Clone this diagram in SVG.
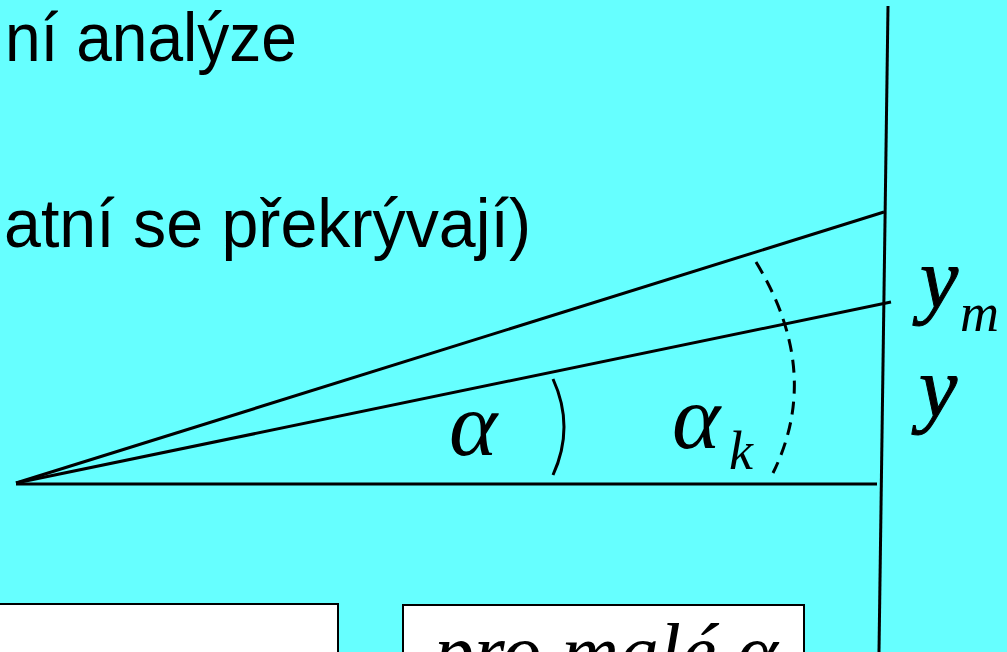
<svg xmlns="http://www.w3.org/2000/svg" width="1007" height="652" viewBox="0 0 1007 652">
<style>
.ln{stroke:#000;stroke-width:3;fill:none;stroke-linecap:butt}
.arc{stroke:#000;stroke-width:3;fill:none}
.cz{font-family:"Liberation Sans","Noto Sans",sans-serif;font-size:69px;fill:#000}
.m{font-family:"Liberation Serif","DejaVu Serif",serif;font-style:italic;fill:#000}
.box{fill:#fff;stroke:#000;stroke-width:2}
</style>
<rect x="0" y="0" width="1007" height="652" fill="#66FFFF"/>
<g id="text-top">
<text class="cz" x="5" y="61" textLength="292" lengthAdjust="spacingAndGlyphs">ní analýze</text>
<text class="cz" x="4" y="247" textLength="527" lengthAdjust="spacingAndGlyphs">atní se překrývají)</text>
</g>
<g id="lines">
<line class="ln" x1="888" y1="6" x2="879" y2="652"/>
<line class="ln" x1="16" y1="484" x2="877" y2="484"/>
<line class="ln" x1="16" y1="483" x2="884" y2="212"/>
<line class="ln" x1="16" y1="483" x2="891" y2="302"/>
<path class="arc" d="M553,379 Q575,427 553,475"/>
<path class="arc" d="M756,262 Q823,372 773,473" stroke-dasharray="13,8"/>
</g>
<g id="labels">
<text class="m" x="449" y="455" font-size="92">α</text>
<text class="m" x="672" y="448" font-size="92">α</text>
<text class="m" x="729" y="469" font-size="54">k</text>
<text class="m" x="920" y="307" font-size="86" stroke="#000" stroke-width="1">y</text>
<text class="m" x="960" y="331" font-size="54">m</text>
<text class="m" x="919" y="416" font-size="86" stroke="#000" stroke-width="1">y</text>
</g>
<g id="box-left">
<rect class="box" x="-5" y="604" width="343" height="60"/>
</g>
<g id="box-right">
<rect class="box" x="403" y="605" width="401" height="60"/>
<text class="m" x="434" y="679" font-size="80" textLength="344" lengthAdjust="spacingAndGlyphs">pro malé α</text>
</g>
</svg>
